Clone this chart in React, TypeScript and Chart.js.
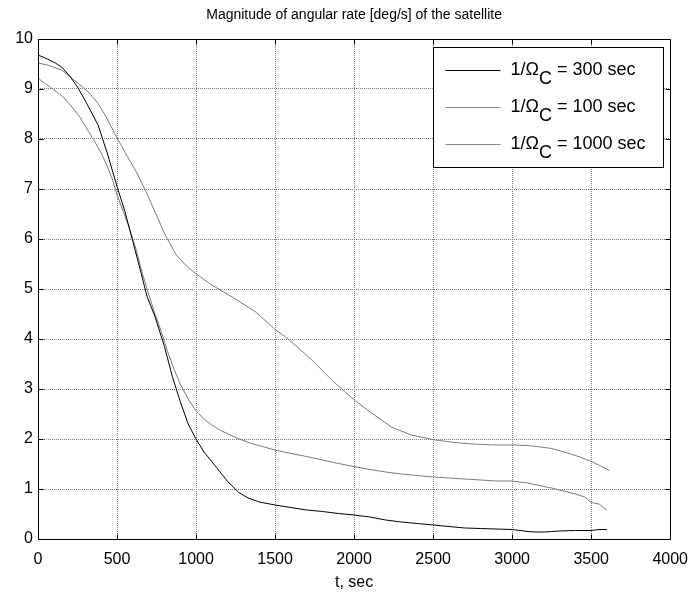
import React, { useEffect, useRef } from "react";
import { Chart, registerables } from "chart.js";

Chart.register(...registerables);

const TITLE = "Magnitude of angular rate [deg/s] of the satellite";
const X_TITLE = "t, sec";
const X_MIN = 0;
const X_MAX = 4000;
const X_STEP = 500;
const Y_MIN = 0;
const Y_MAX = 10;
const Y_STEP = 1;

const LEGEND_VALUES = ["300 sec", "100 sec", "1000 sec"];

// 1/Omega_C = 300 sec (black)
const T_300 = [0, 60, 110, 150, 200, 250, 300, 380, 440, 500, 550, 600, 650, 690, 740, 800, 850, 900, 950, 1000, 1050, 1130, 1200, 1270, 1330, 1400, 1500, 1600, 1700, 1800, 1900, 2000, 2100, 2200, 2300, 2400, 2500, 2600, 2700, 2800, 2900, 3000, 3050, 3100, 3150, 3200, 3250, 3300, 3400, 3500, 3550, 3600];
const V_300 = [9.68, 9.6, 9.52, 9.44, 9.26, 9.04, 8.76, 8.28, 7.7, 7.05, 6.55, 5.95, 5.35, 4.85, 4.45, 3.85, 3.25, 2.75, 2.3, 2.0, 1.74, 1.43, 1.15, 0.93, 0.82, 0.74, 0.68, 0.63, 0.58, 0.55, 0.51, 0.48, 0.44, 0.38, 0.34, 0.31, 0.28, 0.25, 0.22, 0.21, 0.2, 0.19, 0.17, 0.15, 0.14, 0.14, 0.15, 0.16, 0.17, 0.17, 0.19, 0.19];

// 1/Omega_C = 100 sec (grey)
const T_100 = [0, 40, 80, 160, 220, 265, 320, 360, 400, 435, 470, 500, 540, 580, 620, 660, 700, 740, 780, 820, 860, 900, 950, 1000, 1050, 1100, 1150, 1250, 1350, 1500, 1600, 1700, 1800, 1900, 2000, 2100, 2200, 2300, 2400, 2500, 2600, 2700, 2800, 2900, 3000, 3100, 3200, 3250, 3300, 3350, 3400, 3460, 3500, 3550, 3600];
const V_100 = [9.22, 9.12, 9.03, 8.84, 8.62, 8.44, 8.15, 7.94, 7.72, 7.48, 7.2, 6.88, 6.55, 6.2, 5.8, 5.32, 4.9, 4.5, 4.15, 3.75, 3.4, 3.1, 2.8, 2.56, 2.4, 2.28, 2.18, 2.03, 1.91, 1.78, 1.71, 1.65, 1.58, 1.51, 1.45, 1.39, 1.34, 1.3, 1.27, 1.24, 1.22, 1.2, 1.18, 1.16, 1.16, 1.12, 1.05, 1.02, 0.98, 0.94, 0.9, 0.84, 0.73, 0.7, 0.58];

// 1/Omega_C = 1000 sec (grey)
const T_1000 = [0, 60, 150, 220, 283, 330, 378, 430, 497, 560, 623, 690, 749, 810, 875, 940, 1001, 1100, 1229, 1378, 1505, 1568, 1640, 1713, 1790, 1858, 1940, 2010, 2110, 2236, 2362, 2513, 2639, 2750, 2900, 3000, 3100, 3180, 3250, 3330, 3430, 3510, 3560, 3616];
const V_1000 = [9.52, 9.48, 9.38, 9.2, 9.04, 8.9, 8.72, 8.45, 8.04, 7.68, 7.34, 6.9, 6.48, 6.05, 5.68, 5.46, 5.3, 5.08, 4.84, 4.54, 4.18, 4.04, 3.84, 3.64, 3.4, 3.18, 2.95, 2.76, 2.52, 2.24, 2.08, 1.98, 1.93, 1.9, 1.88, 1.88, 1.87, 1.84, 1.81, 1.74, 1.64, 1.54, 1.46, 1.37];

const COLORS = ["#000000", "#7a7a7a", "#7a7a7a"];
const LEGEND_COLORS = ["#000000", "#8a8a8a", "#8a8a8a"];
const FONT = "'Liberation Sans', Arial, sans-serif";

const toPts = (t: number[], v: number[]) => t.map((x, i) => ({ x, y: v[i] }));

const decorPlugin = {
  id: "decor",
  afterDraw(chart: any) {
    const { ctx, chartArea: ca, scales } = chart;
    const xs = scales.x;
    const ys = scales.y;
    ctx.save();
    // title
    ctx.fillStyle = "#000";
    ctx.font = `14px ${FONT}`;
    ctx.textAlign = "center";
    ctx.textBaseline = "middle";
    ctx.fillText(TITLE, (ca.left + ca.right) / 2, 15);

    // frame
    const L = Math.round(ca.left) + 0.5;
    const R = Math.round(ca.right) + 0.5;
    const T = Math.round(ca.top) + 0.5;
    const B = Math.round(ca.bottom) + 0.5;
    ctx.strokeStyle = "#000";
    ctx.lineWidth = 1;
    ctx.beginPath();
    ctx.rect(L, T, R - L, B - T);
    ctx.stroke();
    // inward ticks
    const tl = 5;
    ctx.beginPath();
    for (let v = X_MIN; v <= X_MAX; v += X_STEP) {
      const px = Math.round(xs.getPixelForValue(v)) + 0.5;
      ctx.moveTo(px, B);
      ctx.lineTo(px, B - tl);
      ctx.moveTo(px, T);
      ctx.lineTo(px, T + tl);
    }
    for (let v = Y_MIN; v <= Y_MAX; v += Y_STEP) {
      const py = Math.round(ys.getPixelForValue(v)) + 0.5;
      ctx.moveTo(L, py);
      ctx.lineTo(L + tl, py);
      ctx.moveTo(R, py);
      ctx.lineTo(R - tl, py);
    }
    ctx.stroke();

    // legend
    const bx1 = Math.round(ca.right) - 7 + 0.5;
    const bx0 = bx1 - 230;
    const by0 = Math.round(ca.top) + 8 + 0.5;
    const by1 = by0 + 120;
    ctx.fillStyle = "#fff";
    ctx.fillRect(bx0, by0, bx1 - bx0, by1 - by0);
    ctx.strokeStyle = "#000";
    ctx.strokeRect(bx0, by0, bx1 - bx0, by1 - by0);
    ctx.font = `18px ${FONT}`;
    ctx.textAlign = "left";
    ctx.textBaseline = "middle";
    LEGEND_VALUES.forEach((val, i) => {
      const y = Math.round(by0 + 22 + i * 37) + 0.5;
      ctx.strokeStyle = LEGEND_COLORS[i];
      ctx.beginPath();
      ctx.moveTo(bx0 + 12, y);
      ctx.lineTo(bx0 + 67, y);
      ctx.stroke();
      ctx.fillStyle = "#000";
      let x = bx0 + 77;
      const a = "1/\u03A9";
      ctx.fillText(a, x, y);
      x += ctx.measureText(a).width;
      ctx.fillText("C", x, y + 9);
      x += ctx.measureText("C").width;
      ctx.fillText(" = " + val, x, y);
    });
    ctx.restore();
  },
};

export default function App() {
  const ref = useRef<HTMLCanvasElement | null>(null);
  useEffect(() => {
    document.body.style.margin = "0";
    const canvas = ref.current;
    if (!canvas) return;
    const chart = new Chart(canvas, {
      type: "line",
      data: {
        datasets: [
          { label: "300 sec", data: toPts(T_300, V_300), borderColor: COLORS[0], borderWidth: 1, pointRadius: 0, fill: false, tension: 0 },
          { label: "100 sec", data: toPts(T_100, V_100), borderColor: COLORS[1], borderWidth: 1, pointRadius: 0, fill: false, tension: 0 },
          { label: "1000 sec", data: toPts(T_1000, V_1000), borderColor: COLORS[2], borderWidth: 1, pointRadius: 0, fill: false, tension: 0 },
        ],
      },
      options: {
        responsive: false,
        animation: false,
        events: [],
        layout: { padding: { top: 39, right: 26, left: 0, bottom: 0 } },
        plugins: { legend: { display: false }, title: { display: false }, tooltip: { enabled: false } },
        scales: {
          x: {
            type: "linear",
            min: X_MIN,
            max: X_MAX,
            afterFit: (s: any) => { s.height = 57; },
            ticks: { stepSize: X_STEP, color: "#000", padding: 11, font: { family: FONT, size: 16 }, maxRotation: 0, callback: (v: any) => String(v) },
            grid: { color: "#7a7a7a", drawTicks: false, lineWidth: 1 },
            border: { display: false, dash: [1, 1] },
            title: { display: true, text: X_TITLE, color: "#000", font: { family: FONT, size: 16 }, padding: { top: 0, bottom: 4 } },
          },
          y: {
            type: "linear",
            min: Y_MIN,
            max: Y_MAX,
            afterFit: (s: any) => { s.width = 38; },
            ticks: { stepSize: Y_STEP, color: "#000", padding: 5, font: { family: FONT, size: 16 }, callback: (v: any) => String(v) },
            grid: { color: "#7a7a7a", drawTicks: false, lineWidth: 1 },
            border: { display: false, dash: [1, 1] },
          },
        },
      },
      plugins: [decorPlugin],
    });
    return () => chart.destroy();
  }, []);
  return (
    <div style={{ width: 699, height: 596 }}>
      <canvas ref={ref} width={699} height={596} style={{ display: "block" }} />
    </div>
  );
}
